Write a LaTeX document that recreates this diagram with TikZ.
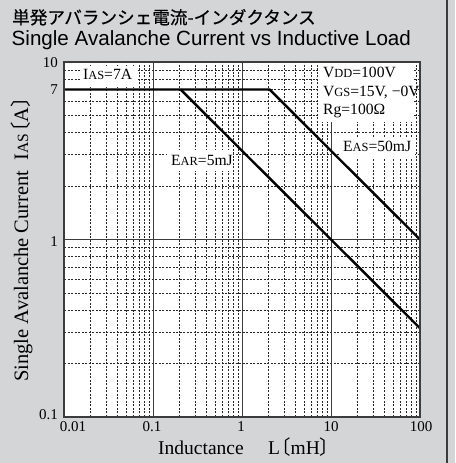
\documentclass[tikz,border=0pt]{standalone}
\usepackage{fontspec}
\setmainfont{Liberation Serif}
\newfontfamily\cjk{Noto Sans CJK JP}
\newfontfamily\cjkbold[FakeBold=0.5]{Noto Sans CJK JP}
\newfontfamily\arialf{Liberation Sans}
\definecolor{bggray}{RGB}{212,213,215}
\definecolor{axisgray}{RGB}{60,60,60}
\newcommand{\subc}[1]{{\fontsize{12.4}{12}\selectfont #1}}
\newcommand{\subcb}[1]{{\fontsize{15.6}{16}\selectfont #1}}
\newcommand{\lbr}{\hspace{-0.45em}{\cjk 〔}}
\newcommand{\rbr}{{\cjk 〕}\hspace{-0.5em}}
\tikzset{
  gridminor/.style={black!85, line width=0.7pt, dash pattern=on 2pt off 1.5pt},
  gridmajor/.style={axisgray, line width=1pt},
  dataline/.style={black, line width=2.4pt, line join=round},
  plotframe/.style={axisgray, line width=1.5pt},
  whitebox/.style={fill=white, draw=none},
  ticklab/.style={inner sep=0pt, font=\fontsize{15}{15}\selectfont},
  annot/.style={inner sep=0pt, anchor=base west, font=\fontsize{15.6}{15}\selectfont},
  axlab/.style={inner sep=0pt, anchor=base west, font=\fontsize{19.5}{20}\selectfont}
}
\begin{document}
\begin{tikzpicture}[x=1pt,y=1pt]
\useasboundingbox (0,0) rectangle (455,463);
\fill[bggray] (0,0) rectangle (455,463);
\draw[axisgray, line width=1.5pt] (447,0) -- (447,463);
% plot area
\fill[white] (64,46) rectangle (420,401);
\begin{scope}[shift={(64pt,46pt)}, x=89pt, y=177.5pt]
  \foreach \d in {0,1,2,3}{
    \foreach \k in {2,...,9}{
      \draw[gridminor] ({\d+log10(\k)},0) -- ({\d+log10(\k)},2);
    }
  }
  \foreach \d in {0,1}{
    \foreach \k in {2,...,9}{
      \draw[gridminor] (0,{\d+log10(\k)}) -- (4,{\d+log10(\k)});
    }
  }
  \draw[gridmajor] (1,0) -- (1,2) (2,0) -- (2,2) (3,0) -- (3,2) (0,1) -- (4,1);
\end{scope}
% white label boxes
\fill[whitebox] (80,376) rectangle (136,397);
\fill[whitebox] (320,341) rectangle (414,400);
\fill[whitebox] (340,305) rectangle (415,326);
\fill[whitebox] (167,292) rectangle (233,313);
\begin{scope}[shift={(64pt,46pt)}, x=89pt, y=177.5pt]
  \coordinate (s) at (0,1.8451);
  \coordinate (k50) at (2.3098,1.8451);
  \coordinate (k5) at (1.3098,1.8451);
  \coordinate (e50) at (4,1);
  \coordinate (e5) at (4,0.5);
  \draw[dataline] (s) -- (k50) -- (e50);
  \draw[dataline] (k5) -- (e5);
\end{scope}
\draw[plotframe] (64,46) rectangle (420,401);
% titles
\node[inner sep=0pt, anchor=base west, font=\cjkbold\fontsize{17.6}{17}\selectfont] (t1) at (12,439) {単発アバランシェ電流-インダクタンス};
\node[inner sep=0pt, anchor=base west, font=\arialf\fontsize{20.6}{21}\selectfont] (t2) at (11.5,417) {Single Avalanche Current vs Inductive Load};
% y ticks
\node[ticklab, anchor=base east] (y10) at (58,395) {10};
\node[ticklab, anchor=base east] (y7) at (58,368) {7};
\node[ticklab, anchor=base east] (y1) at (58,216) {1};
\node[ticklab, anchor=base east] (y01) at (58,43) {0.1};
% x ticks
\node[ticklab, anchor=base] (x001) at (73,31) {0.01};
\node[ticklab, anchor=base] (x01) at (152,31) {0.1};
\node[ticklab, anchor=base] (x1) at (241,31) {1};
\node[ticklab, anchor=base] (x10) at (331,31) {10};
\node[ticklab, anchor=base] (x100) at (421,31) {100};
% axis labels
\node[axlab] (xl) at (158,9) {Inductance\hspace{1.25em}L\lbr mH\rbr};
\node[axlab, rotate=90, font=\fontsize{20.5}{20}\selectfont] (yl) at (28,81) {Single Avalanche Current\hspace{0.5em}I\subcb{AS}\lbr A\rbr};
% annotations
\node[annot] (ias) at (83,383) {I\subc{AS}=7A};
\node[annot] (vdd) at (323,385) {V\subc{DD}=100V};
\node[annot] (vgs) at (323,366) {V\subc{GS}=15V, −0V};
\node[annot] (rg) at (323,348) {Rg=100Ω};
\node[annot] (eas) at (343,311) {E\subc{AS}=50mJ};
\node[annot] (ear) at (171,297) {E\subc{AR}=5mJ};
\end{tikzpicture}
\end{document}
